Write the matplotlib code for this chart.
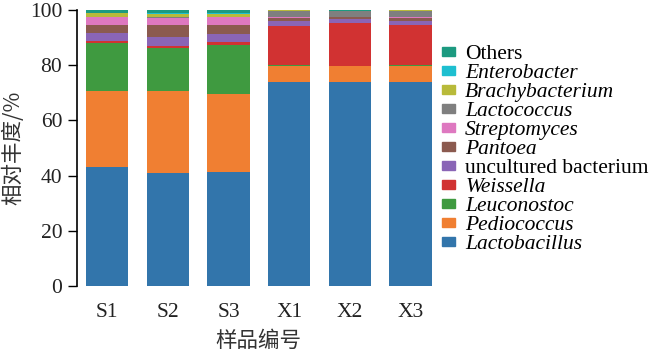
import numpy as np
import matplotlib
matplotlib.use("Agg")
import matplotlib.pyplot as plt
from matplotlib.patches import Patch

samples = ["S1", "S2", "S3", "X1", "X2", "X3"]

# relative abundance (%) per taxon, bottom to top
lactobacillus = [43.1, 41.0, 41.3, 73.7, 74.0, 73.8]
pediococcus = [27.5, 29.5, 28.3, 6.1, 5.6, 5.9]
leuconostoc = [17.5, 15.8, 17.7, 0.3, 0.2, 0.3]
weissella = [0.8, 0.6, 0.9, 14.1, 15.6, 14.5]
uncultured = [2.7, 3.4, 3.0, 1.6, 1.2, 1.4]
pantoea = [3.0, 4.3, 3.4, 1.2, 0.7, 1.3]
streptomyces = [2.7, 2.4, 2.7, 0.3, 0.2, 0.2]
lactococcus = [0.3, 0.4, 0.2, 2.4, 2.0, 2.3]
brachybacterium = [1.1, 1.2, 1.1, 0.1, 0.1, 0.1]
enterobacter = [0.1, 0.1, 0.1, 0.0, 0.0, 0.0]
others = [1.2, 1.3, 1.3, 0.2, 0.4, 0.2]

taxa = ["Lactobacillus", "Pediococcus", "Leuconostoc", "Weissella",
        "uncultured bacterium", "Pantoea", "Streptomyces", "Lactococcus",
        "Brachybacterium", "Enterobacter", "Others"]
series = [lactobacillus, pediococcus, leuconostoc, weissella, uncultured,
          pantoea, streptomyces, lactococcus, brachybacterium, enterobacter, others]
colors = ["#3275ab", "#f07f32", "#3f9a40", "#d13232", "#8a65b6", "#8b5a4f",
          "#de78c0", "#7f7f7f", "#b8ba3a", "#1ebfd0", "#1c9a80"]

plt.rcParams['font.family'] = ['Liberation Serif', 'Noto Sans CJK SC']

fig = plt.figure(figsize=(6.57, 3.53), dpi=100)
ax = fig.add_axes([0.117, 0.19, 0.554, 0.782])

x = np.arange(len(samples))
bottom = np.zeros(len(samples))
for vals, c in zip(series, colors):
    ax.bar(x, vals, 0.7, bottom=bottom, color=c, linewidth=0)
    bottom += np.array(vals)

ax.set_xlim(-0.5, 5.5)
ax.set_ylim(0, 100)
ax.set_yticks([0, 20, 40, 60, 80, 100])
ax.set_xticks(x)
ax.set_xticklabels(samples, fontsize=15.5)
ax.tick_params(axis='y', labelsize=15.5, direction='out', length=6.5, width=1, pad=4,
               labelcolor="#222222")
ax.tick_params(axis='x', length=0, pad=12, labelcolor="#222222")
for s in ["top", "right", "bottom"]:
    ax.spines[s].set_visible(False)
ax.spines["left"].set_linewidth(1.2)

ax.set_ylabel("相对丰度/%", fontsize=15.5, family=['Noto Sans CJK SC'], color="#333333",
              labelpad=4)
ax.set_xlabel("样品编号", fontsize=15.5, family=['Noto Sans CJK SC'], color="#333333",
              labelpad=6)

handles = []
for name, c in zip(taxa, colors):
    handles.append(Patch(color=c, label=name))
handles = handles[::-1]
labels = [h.get_label() for h in handles]
leg = fig.legend(handles, labels, loc="upper left", bbox_to_anchor=(0.672, 0.872),
                 frameon=False, fontsize=15.5, handlelength=0.65, handleheight=0.25,
                 handletextpad=0.45, labelspacing=0.0, borderaxespad=0, borderpad=0)
for t in leg.get_texts():
    if t.get_text() not in ("Others", "uncultured bacterium"):
        t.set_fontstyle("italic")

fig.savefig("out.png", dpi=100)
